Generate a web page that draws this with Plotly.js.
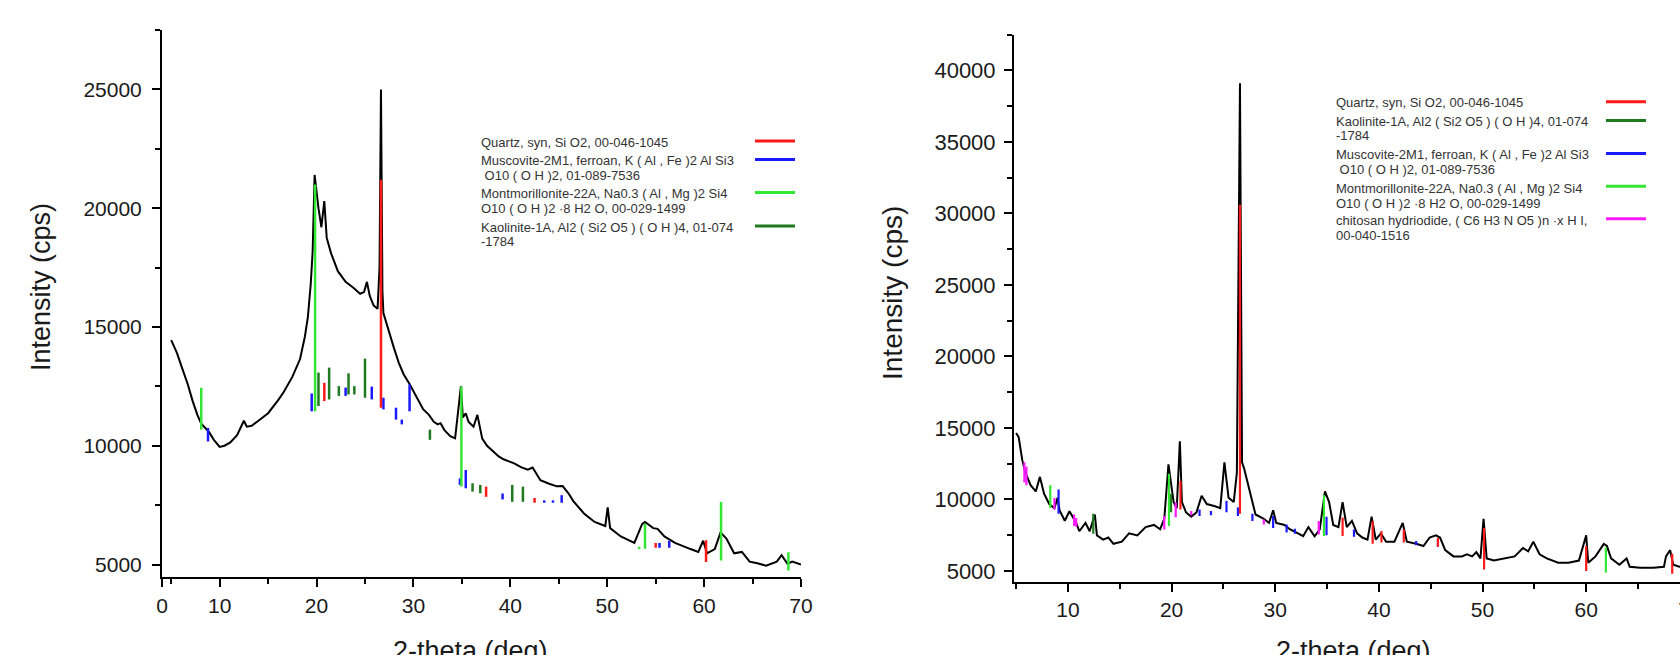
<!DOCTYPE html>
<html>
<head>
<meta charset="utf-8">
<script src="https://cdn.plot.ly/plotly-3.0.1.min.js"></script>
<style>
html, body { margin: 0; padding: 0; overflow: hidden; background: #fff; }
#chart { width: 1720px; height: 655px; }
</style>
</head>
<body>
<div id="chart"></div>
<script>
// ---------- Left pattern: measured XRD trace ----------
const leftTheta = [5.0, 5.6, 6.1, 6.7, 7.2, 7.7, 8.1, 8.5, 8.9, 9.4, 10.0, 10.5, 11.1, 11.8, 12.3, 12.5, 12.8, 13.3, 14.0, 15.0,
  16.0, 16.6, 17.5, 18.3, 18.8, 19.1, 19.4, 19.6, 19.8, 20.0, 20.2, 20.5, 20.8, 21.05, 21.5, 22.2, 23.0, 23.8, 24.5, 24.9,
  25.2, 25.5, 25.9, 26.3, 26.5, 26.65, 26.8, 26.9, 27.4, 28.0, 28.5, 29.0, 29.6, 30.3, 31.0, 31.6, 32.1, 32.5, 32.8, 33.2,
  33.8, 34.3, 34.6, 34.9, 35.1, 35.4, 35.7, 36.2, 36.6, 37.1, 37.6, 38.2, 38.8, 39.3, 39.8, 40.4, 41.1, 41.8, 42.3, 43.1,
  44.0, 44.8, 45.4, 46.0, 46.5, 47.6, 48.7, 49.8, 50.05, 50.3, 51.4, 52.8, 53.6, 53.9, 54.75, 55.2, 55.9, 57.0, 58.6, 59.4,
  59.9, 60.3, 61.1, 61.7, 62.3, 63.1, 63.9, 64.7, 65.5, 66.4, 67.5, 68.0, 68.6, 69.1, 70.0];
const leftIntensity = [14450, 13900, 13300, 12600, 11900, 11300, 10930, 10750, 10580, 10250, 9950, 10000, 10140, 10450, 10900, 11050, 10800, 10840, 11050, 11370,
  11900, 12250, 12900, 13650, 14600, 15400, 16800, 18200, 21400, 20600, 20000, 19200, 20300, 18750, 18100, 17350, 16900, 16650, 16400, 16470,
  16900, 16300, 15900, 15770, 17500, 25000, 16500, 15590, 14890, 14100, 13480, 13000, 12600, 12100, 11540, 11300, 11010, 10900, 10950, 10660,
  10400, 10310, 11400, 12500, 11190, 11370, 11000, 10800, 11300, 10300, 10000, 9780, 9550, 9430, 9350, 9260, 9100, 8990, 9080, 8550,
  8400, 8290, 8300, 8000, 7670, 7150, 6790, 6620, 7410, 6530, 6180, 5910, 6700, 6790, 6530, 6500, 6180, 5910, 5650, 5530,
  6000, 5470, 5650, 6350, 6090, 5470, 5530, 5120, 5050, 4950, 5120, 5390, 5030, 5120, 5000];

// Left reference patterns: [2-theta, base, top]
const leftQuartz = [[20.8, 11880, 12650], [26.65, 11600, 21200], [37.5, 7850, 8280], [42.5, 7600, 7800], [55.0, 5700, 5900], [60.2, 5100, 6020]];
const leftMuscovite = [[8.8, 10180, 10750], [19.5, 11450, 12200], [23.0, 12100, 12450], [25.7, 11950, 12490], [26.9, 11530, 12020], [28.2, 11100, 11600],
  [28.8, 10900, 11100], [29.6, 11450, 12580], [34.8, 8350, 8630], [35.4, 8210, 8980], [39.2, 7740, 7990], [43.5, 7600, 7700], [44.4, 7600, 7700],
  [45.3, 7600, 7920], [55.4, 5700, 5900], [56.4, 5700, 6000]];
const leftMontmorillonite = [[8.1, 10680, 12440], [19.85, 11450, 21000], [34.95, 8280, 12490], [53.3, 5650, 5750], [53.9, 5660, 6720], [61.75, 5170, 7640], [68.7, 4750, 5520]];
const leftKaolinite = [[20.2, 11670, 13080], [21.3, 11950, 13290], [22.3, 12100, 12510], [23.3, 12160, 13050], [23.9, 12160, 12510], [25.0, 12020, 13670],
  [31.7, 10250, 10680], [36.1, 8070, 8420], [36.9, 8000, 8350], [40.2, 7640, 8350], [41.3, 7640, 8280]];

// ---------- Right pattern: measured XRD trace ----------
const rightTheta = [5.0, 5.25, 5.6, 5.9, 6.4, 6.9, 7.3, 7.7, 8.2, 8.7, 9.0, 9.2, 9.7, 10.15, 10.8, 11.1, 11.7, 12.1, 12.6, 12.8,
  13.4, 13.9, 14.4, 15.2, 15.9, 16.7, 17.5, 18.3, 18.9, 19.3, 19.7, 19.9, 20.2, 20.5, 20.8, 21.0, 21.4, 21.9, 22.4, 22.9,
  23.4, 24.2, 24.7, 25.1, 25.5, 26.0, 26.3, 26.6, 26.8, 27.0, 27.6, 28.1, 28.9, 29.4, 29.8, 30.1, 30.9, 31.4, 32.2, 32.7,
  33.2, 33.8, 34.3, 34.8, 35.2, 35.6, 36.1, 36.5, 36.9, 37.4, 37.9, 38.4, 38.9, 39.3, 39.7, 40.2, 40.7, 41.5, 42.3, 42.7,
  43.6, 44.3, 44.9, 45.5, 45.9, 46.4, 47.2, 48.0, 48.5, 49.0, 49.4, 49.8, 50.1, 50.4, 51.1, 52.1, 53.1, 53.9, 54.4, 54.9,
  55.5, 56.2, 57.3, 58.3, 59.3, 60.0, 60.2, 60.9, 61.7, 62.0, 62.4, 63.2, 63.9, 64.2, 65.2, 66.5, 67.5, 67.7, 68.1, 68.4,
  69.0, 70.0, 71.0];
const rightIntensity = [14650, 14360, 12750, 11870, 11000, 10560, 11580, 10400, 9680, 9390, 10120, 9240, 8510, 9180, 8360, 7780, 8360, 7780, 8950, 7490,
  7190, 7340, 6900, 7050, 7630, 7490, 8070, 8220, 7920, 8650, 12460, 11290, 9820, 9390, 14060, 9820, 9090, 8800, 9090, 10260,
  9680, 9530, 9390, 12600, 10120, 9820, 11870, 39100, 12600, 12160, 10410, 8950, 8650, 8360, 9240, 8360, 8220, 7920, 7630, 7430,
  8070, 7430, 7920, 10560, 9820, 8220, 8070, 9820, 8070, 8510, 7630, 7340, 7190, 8800, 7190, 7630, 7050, 7050, 8360, 7050,
  6900, 6750, 7340, 7490, 7340, 6460, 6020, 6020, 6170, 6020, 6320, 5880, 8650, 5880, 5730, 5880, 6020, 6610, 6370, 7050,
  6170, 5880, 5580, 5580, 5730, 7490, 5580, 6020, 6900, 6750, 5880, 5440, 5880, 5290, 5230, 5230, 5290, 6020, 6460, 5440,
  5300, 5200, 5150];

// Right reference patterns: [2-theta, base, top]
const rightQuartz = [[20.86, 9300, 11300], [26.6, 9000, 30600], [36.5, 7450, 8740], [39.4, 6900, 8500], [40.25, 7000, 7800], [42.4, 7000, 7900],
  [45.7, 6700, 7300], [50.15, 5100, 8000], [60.0, 5000, 6750], [68.3, 4800, 6200]];
const rightKaolinite = [[12.45, 7600, 9000], [19.95, 9100, 10400]];
const rightMuscovite = [[9.1, 9000, 10700], [22.7, 8850, 9300], [23.8, 8900, 9200], [25.3, 9100, 9900], [26.4, 8850, 9450], [27.8, 8500, 9000],
  [29.8, 8000, 8850], [31.1, 7700, 8250], [31.9, 7600, 7950], [34.95, 7500, 8800], [37.6, 7400, 7900], [43.6, 6800, 7100], [45.7, 6700, 7200]];
const rightMontmorillonite = [[8.3, 9400, 11000], [19.75, 8150, 11800], [34.7, 7450, 10300], [61.9, 4900, 6650]];
const rightChitosan = [[5.8, 11200, 12600], [6.0, 11000, 12300], [8.7, 9300, 10100], [10.6, 8150, 8950], [10.8, 8100, 8700], [19.3, 7900, 8850],
  [20.4, 8750, 9800], [21.9, 8900, 9200], [28.9, 8250, 8600], [34.2, 7550, 8500]];

// Tick labels
const leftXTickText = ['0', '10', '20', '30', '40', '50', '60', '70'];
const leftXTickVals = [4.05, 10, 20, 30, 40, 50, 60, 70];

// Legend texts
const leftLegendLines = [
  ['Quartz, syn, Si O2, 00-046-1045'],
  ['Muscovite-2M1, ferroan, K ( Al , Fe )2 Al Si3', '\u00a0O10 ( O H )2, 01-089-7536'],
  ['Montmorillonite-22A, Na0.3 ( Al , Mg )2 Si4', 'O10 ( O H )2 \u00b78 H2 O, 00-029-1499'],
  ['Kaolinite-1A, Al2 ( Si2 O5 ) ( O H )4, 01-074', '-1784']
];
const leftLegendColors = ['#ff1a1a', '#1a1aff', '#33e633', '#1f7a1f'];
const rightLegendLines = [
  ['Quartz, syn, Si O2, 00-046-1045'],
  ['Kaolinite-1A, Al2 ( Si2 O5 ) ( O H )4, 01-074', '-1784'],
  ['Muscovite-2M1, ferroan, K ( Al , Fe )2 Al Si3', '\u00a0O10 ( O H )2, 01-089-7536'],
  ['Montmorillonite-22A, Na0.3 ( Al , Mg )2 Si4', 'O10 ( O H )2 \u00b78 H2 O, 00-029-1499'],
  ['chitosan hydriodide, ( C6 H3 N O5 )n \u00b7x H I,', '00-040-1516']
];
const rightLegendColors = ['#ff1a1a', '#1f7a1f', '#1a1aff', '#33e633', '#ff1aff'];

// ---------- Layout geometry (pixels) ----------
const W = 1720, H = 655;
const px = v => v / W;
const py = v => (H - v) / H;

function stickTrace(list, color, width, xa, ya) {
  const x = [], y = [];
  list.forEach(([p, b, t]) => { x.push(p, p, null); y.push(b, t, null); });
  return { type: 'scatter', mode: 'lines', x, y, xaxis: xa, yaxis: ya,
    line: { color, width }, showlegend: false, hoverinfo: 'skip' };
}

const traces = [
  { type: 'scatter', mode: 'lines', x: leftTheta, y: leftIntensity, xaxis: 'x', yaxis: 'y',
    line: { color: '#000', width: 2 }, showlegend: false },
  stickTrace(leftMuscovite, leftLegendColors[1], 2.5, 'x', 'y'),
  stickTrace(leftKaolinite, leftLegendColors[3], 2.5, 'x', 'y'),
  stickTrace(leftMontmorillonite, leftLegendColors[2], 2.5, 'x', 'y'),
  stickTrace(leftQuartz, leftLegendColors[0], 2.5, 'x', 'y'),
  { type: 'scatter', mode: 'lines', x: rightTheta, y: rightIntensity, xaxis: 'x2', yaxis: 'y2',
    line: { color: '#000', width: 2 }, showlegend: false },
  stickTrace(rightMuscovite, rightLegendColors[2], 2.2, 'x2', 'y2'),
  stickTrace(rightChitosan, rightLegendColors[4], 2.2, 'x2', 'y2'),
  stickTrace(rightKaolinite, rightLegendColors[1], 2.2, 'x2', 'y2'),
  stickTrace(rightMontmorillonite, rightLegendColors[3], 2.2, 'x2', 'y2'),
  stickTrace(rightQuartz, rightLegendColors[0], 2.2, 'x2', 'y2')
];

const tickFont = { family: 'Liberation Sans, Arial, sans-serif', size: 21, color: '#1a1a1a' };
const axisBase = {
  showline: true, linecolor: '#000', linewidth: 2, mirror: false,
  showgrid: false, zeroline: false,
  ticks: 'outside', ticklen: 8, tickwidth: 2, tickcolor: '#000',
  tickfont: tickFont, fixedrange: true
};

const annotations = [];
const shapes = [];
function addLegend(lines, colors, textX, lineYs, swX0, swX1, swYs) {
  let k = 0;
  lines.forEach((entry, i) => {
    entry.forEach(t => {
      annotations.push({ xref: 'paper', yref: 'paper', x: px(textX), y: py(lineYs[k]), xanchor: 'left', yanchor: 'middle',
        text: t, showarrow: false, align: 'left',
        font: { family: 'Liberation Sans, Arial, sans-serif', size: 13, color: '#333' } });
      k++;
    });
    shapes.push({ type: 'line', xref: 'paper', yref: 'paper', x0: px(swX0), x1: px(swX1), y0: py(swYs[i]), y1: py(swYs[i]),
      line: { color: colors[i], width: 3 } });
  });
}
addLegend(leftLegendLines, leftLegendColors, 479, [142.5, 160.4, 175.8, 193.8, 208.3, 227, 241.7], 755, 795, [141, 159.5, 192.5, 226]);
addLegend(rightLegendLines, rightLegendColors, 1334, [102.5, 121.3, 136, 154.8, 169.5, 188.3, 203, 221, 235.6], 1606, 1646, [101.7, 120.5, 153.6, 186.2, 218.8]);

const titleFont = { family: 'Liberation Sans, Arial, sans-serif', size: 27, color: '#1a1a1a' };
annotations.push({ xref: 'paper', yref: 'paper', x: px(41), y: py(287), xanchor: 'center', yanchor: 'middle',
  text: 'Intensity (cps)', textangle: -90, showarrow: false, font: titleFont });
annotations.push({ xref: 'paper', yref: 'paper', x: px(893), y: py(293), xanchor: 'center', yanchor: 'middle',
  text: 'Intensity (cps)', textangle: -90, showarrow: false, font: Object.assign({}, titleFont, { size: 28 }) });
annotations.push({ xref: 'paper', yref: 'paper', x: px(470), y: py(634), xanchor: 'center', yanchor: 'top',
  text: '2-theta (deg)', showarrow: false, font: titleFont });
annotations.push({ xref: 'paper', yref: 'paper', x: px(1353), y: py(634), xanchor: 'center', yanchor: 'top',
  text: '2-theta (deg)', showarrow: false, font: titleFont });

const layout = {
  width: W, height: H,
  margin: { l: 0, r: 0, t: 0, b: 0, pad: 0 },
  paper_bgcolor: '#fff', plot_bgcolor: '#fff',
  showlegend: false,
  xaxis: Object.assign({}, axisBase, {
    domain: [px(162), px(801)], range: [4.05, 70], anchor: 'y',
    tickmode: 'array', tickvals: leftXTickVals, ticktext: leftXTickText,
    minor: { tickmode: 'linear', tick0: 5, dtick: 10, ticks: 'outside', ticklen: 5, tickwidth: 2, tickcolor: '#000' },
    ticklabelstandoff: 0
  }),
  yaxis: Object.assign({}, axisBase, {
    domain: [py(577.3), py(30.1)], range: [4461, 27500], anchor: 'x',
    tickmode: 'linear', tick0: 0, dtick: 5000, tickformat: 'd',
    minor: { tickmode: 'linear', tick0: 2500, dtick: 5000, ticks: 'outside', ticklen: 5, tickwidth: 2, tickcolor: '#000' },
    ticklabelstandoff: 6
  }),
  xaxis2: Object.assign({}, axisBase, {
    domain: [px(1014), 1], range: [4.8, 72.91], anchor: 'y2',
    tickmode: 'linear', tick0: 0, dtick: 10,
    minor: { tickmode: 'linear', tick0: 5, dtick: 10, ticks: 'outside', ticklen: 5, tickwidth: 2, tickcolor: '#000' },
    ticklabelstandoff: 0
  }),
  yaxis2: Object.assign({}, axisBase, {
    domain: [py(581.6), py(34.5)], range: [4260, 42500], anchor: 'x2',
    tickmode: 'linear', tick0: 0, dtick: 5000, tickformat: 'd',
    minor: { tickmode: 'linear', tick0: 2500, dtick: 5000, ticks: 'outside', ticklen: 5, tickwidth: 2, tickcolor: '#000' },
    tickfont: Object.assign({}, tickFont, { size: 22 }),
    ticklabelstandoff: 4
  }),
  annotations, shapes
};

Plotly.newPlot('chart', traces, layout, { displayModeBar: false, staticPlot: true });
</script>
</body>
</html>
